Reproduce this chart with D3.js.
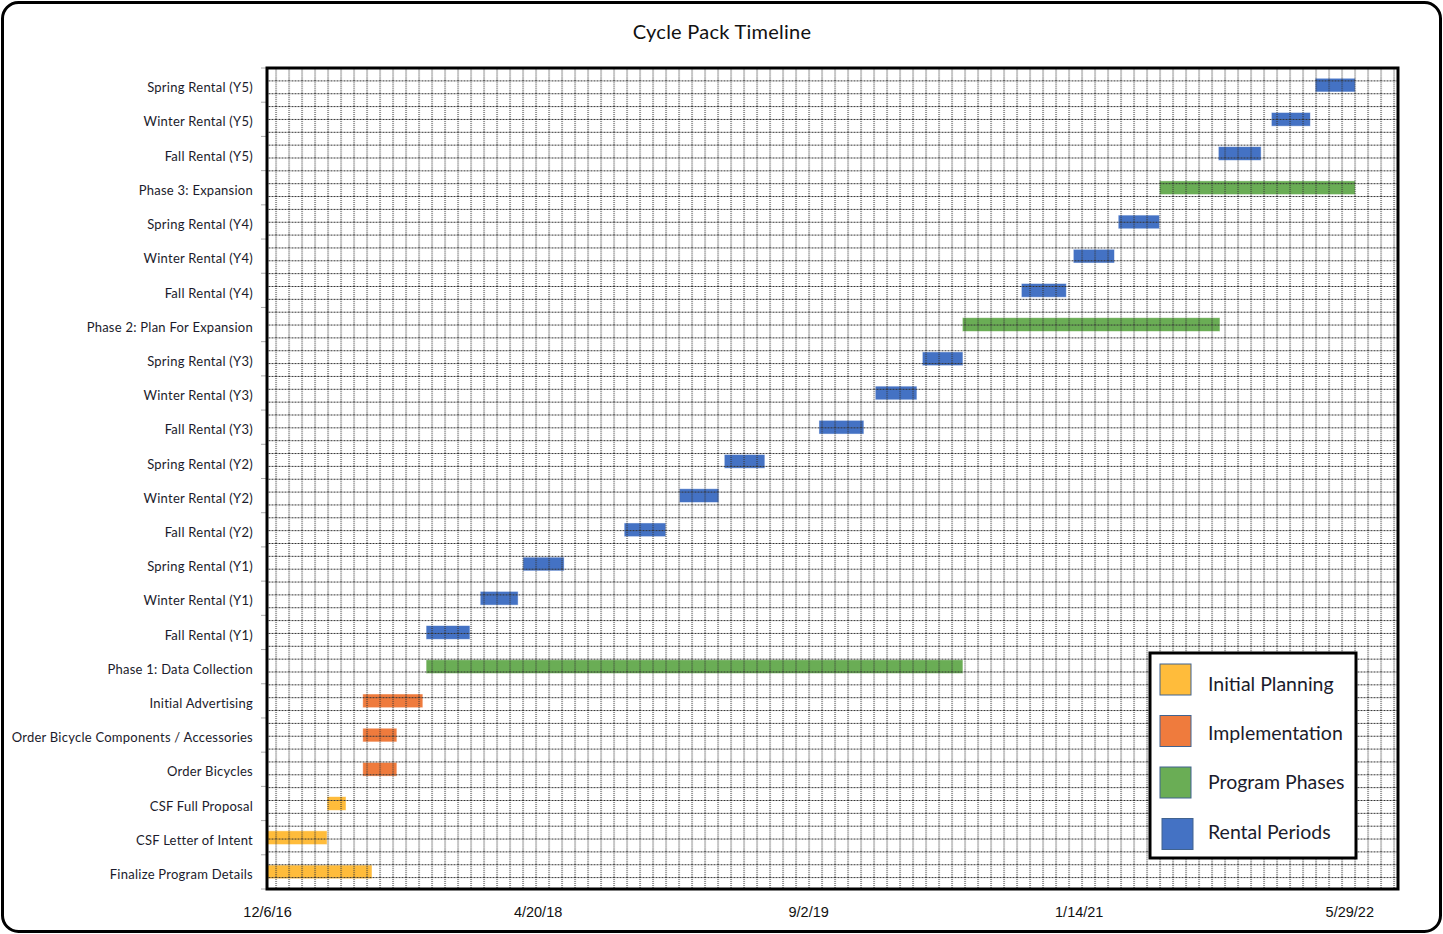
<!DOCTYPE html>
<html>
<head>
<meta charset="utf-8">
<script src="https://d3js.org/d3.v7.min.js"></script>
<style>
  body { margin: 0; background: #fff; }
</style>
</head>
<body>
<div id="my_dataviz"></div>
<script>

// task rows, bottom to top
var tasks = ["Finalize Program Details", "CSF Letter of Intent", "CSF Full Proposal", "Order Bicycles",
  "Order Bicycle Components / Accessories", "Initial Advertising", "Phase 1: Data Collection",
  "Fall Rental (Y1)", "Winter Rental (Y1)", "Spring Rental (Y1)",
  "Fall Rental (Y2)", "Winter Rental (Y2)", "Spring Rental (Y2)",
  "Fall Rental (Y3)", "Winter Rental (Y3)", "Spring Rental (Y3)",
  "Phase 2: Plan For Expansion",
  "Fall Rental (Y4)", "Winter Rental (Y4)", "Spring Rental (Y4)",
  "Phase 3: Expansion",
  "Fall Rental (Y5)", "Winter Rental (Y5)", "Spring Rental (Y5)"];
var starts = ["2016-12-06", "2016-12-06", "2017-03-27", "2017-06-01", "2017-06-01", "2017-06-01", "2017-09-26",
  "2017-09-26", "2018-01-04", "2018-03-24", "2018-09-27", "2019-01-07", "2019-03-31",
  "2019-09-22", "2020-01-04", "2020-03-31", "2020-06-13", "2020-09-30", "2021-01-04", "2021-03-28",
  "2021-06-12", "2021-09-29", "2022-01-05", "2022-03-27"];
var ends = ["2017-06-18", "2017-03-27", "2017-05-01", "2017-08-03", "2017-08-03", "2017-09-20", "2020-06-14",
  "2017-12-16", "2018-03-15", "2018-06-08", "2018-12-13", "2019-03-21", "2019-06-14",
  "2019-12-14", "2020-03-21", "2020-06-14", "2021-10-02", "2020-12-22", "2021-03-21", "2021-06-12",
  "2022-06-09", "2021-12-17", "2022-03-18", "2022-06-09"];
var groups = [0, 0, 0, 1, 1, 1, 2, 3, 3, 3, 3, 3, 3, 3, 3, 3, 2, 3, 3, 3, 2, 3, 3, 3];

// legend
var groupNames = ["Initial Planning", "Implementation", "Program Phases", "Rental Periods"];
var groupColors = ["#FFBC3B", "#EF7B3D", "#6AAD55", "#4472C4"];

// axis
var tickDates = ["2016-12-06", "2018-04-20", "2019-09-02", "2021-01-14", "2022-05-29"];
var axisRange = ["2016-12-06", "2022-08-27"];

var parse = d3.utcParse("%Y-%m-%d");
var data = tasks.map(function(t, i) {
  return { task: t, start: parse(starts[i]), end: parse(ends[i]), group: groups[i] };
});

var W = 1443, H = 934;
var margin = {top: 68, right: 45, bottom: 45, left: 267},
    width = 1398 - margin.left,
    height = 889 - margin.top;

var svg = d3.select("#my_dataviz")
  .append("svg")
    .attr("width", W)
    .attr("height", H);

// outer frame
svg.append("rect")
  .attr("x", 2.5).attr("y", 2.5)
  .attr("width", W - 5).attr("height", H - 5)
  .attr("rx", 16).attr("ry", 16)
  .attr("fill", "#fff")
  .attr("stroke", "#000")
  .attr("stroke-width", 3);

var font = "Lato, 'Open Sans', sans-serif";

svg.append("text")
  .attr("x", 722).attr("y", 39)
  .attr("text-anchor", "middle")
  .style("font-family", font)
  .style("font-size", "20px")
  .style("letter-spacing", "0.25px")
  .style("fill", "#111")
  .text("Cycle Pack Timeline");

// plot area pattern (dashed grid)
var defs = svg.append("defs");
var pat = defs.append("pattern")
  .attr("id", "grid")
  .attr("patternUnits", "userSpaceOnUse")
  .attr("x", 275.5).attr("y", 3.3)
  .attr("width", 13).attr("height", 12.85);
pat.append("line")
  .attr("x1", 0).attr("x2", 13).attr("y1", 0.5).attr("y2", 0.5)
  .attr("stroke", "#333").attr("stroke-width", 1)
  .attr("stroke-dasharray", "2,1");
pat.append("line")
  .attr("x1", 0.5).attr("x2", 0.5).attr("y1", 0).attr("y2", 12.85)
  .attr("stroke", "#333").attr("stroke-width", 1.2)
  .attr("stroke-dasharray", "1,1");

var g = svg.append("g")
  .attr("transform", "translate(" + margin.left + "," + margin.top + ")");

g.append("rect")
  .attr("width", width).attr("height", height)
  .attr("fill", "#fff");
svg.append("rect")
  .attr("x", margin.left).attr("y", margin.top)
  .attr("width", width).attr("height", height)
  .attr("fill", "url(#grid)");

// scales
var x = d3.scaleUtc()
  .domain(axisRange.map(parse))
  .range([0, width]);

var y = d3.scaleBand()
  .domain(tasks.slice().reverse())
  .range([0, height])
  .paddingInner(0.6)
  .paddingOuter(0.3);

// category tick marks at row boundaries
var step = height / tasks.length;
g.append("g").selectAll("line")
  .data(d3.range(tasks.length + 1))
  .enter().append("line")
    .attr("x1", -6).attr("x2", 0)
    .attr("y1", function(d) { return d * step; })
    .attr("y2", function(d) { return d * step; })
    .attr("stroke", "#aaa");

// y labels
var yAxis = g.append("g")
  .call(d3.axisLeft(y).tickSize(0).tickPadding(14));
yAxis.select(".domain").remove();
yAxis.selectAll("text")
  .attr("dy", "0.55em")
  .style("font-family", font)
  .style("font-size", "13px")
  .style("letter-spacing", "0.25px")
  .style("fill", "#1b1b2b");

// x axis
var xAxis = g.append("g")
  .attr("transform", "translate(0," + height + ")")
  .call(d3.axisBottom(x)
    .tickValues(tickDates.map(parse))
    .tickFormat(function(d) { return (d.getUTCMonth() + 1) + "/" + d.getUTCDate() + "/" + d3.utcFormat("%y")(d); })
    .tickSize(0).tickPadding(18));
xAxis.select(".domain").remove();
xAxis.selectAll("text")
  .style("font-family", "'Liberation Sans', Arial, sans-serif")
  .style("font-size", "14.5px")
  .style("fill", "#111");

// bars
g.append("g").selectAll("rect")
  .data(data)
  .enter().append("rect")
    .attr("x", function(d) { return x(d.start); })
    .attr("y", function(d) { return y(d.task); })
    .attr("width", function(d) { return x(d.end) - x(d.start); })
    .attr("height", y.bandwidth())
    .attr("fill", function(d) { return groupColors[d.group]; })
    .attr("stroke", "#fff")
    .attr("stroke-opacity", 0.6)
    .attr("stroke-width", 0.75);

// plot border
svg.append("rect")
  .attr("x", margin.left).attr("y", margin.top)
  .attr("width", width).attr("height", height)
  .attr("fill", "none")
  .attr("stroke", "#000")
  .attr("stroke-width", 3);

// legend
var legend = svg.append("g").attr("transform", "translate(1150,653)");
legend.append("rect")
  .attr("width", 206).attr("height", 205)
  .attr("fill", "#fff")
  .attr("stroke", "#000")
  .attr("stroke-width", 3);
legend.selectAll(".swatch")
  .data(groupNames)
  .enter().append("rect")
    .attr("class", "swatch")
    .attr("x", function(d, i) { return i === 3 ? 12 : 10; })
    .attr("y", function(d, i) { return 11 + i * 51.5; })
    .attr("width", 31).attr("height", 31)
    .attr("fill", function(d, i) { return groupColors[i]; })
    .attr("stroke", "#41638f")
    .attr("stroke-width", 1);
legend.selectAll(".label")
  .data(groupNames)
  .enter().append("text")
    .attr("class", "label")
    .attr("x", 58)
    .attr("y", function(d, i) { return 38 + i * 49.2; })
    .style("font-family", font)
    .style("font-size", "19.5px")
    .style("fill", "#1b1b2b")
    .text(function(d) { return d; });

</script>
</body>
</html>
